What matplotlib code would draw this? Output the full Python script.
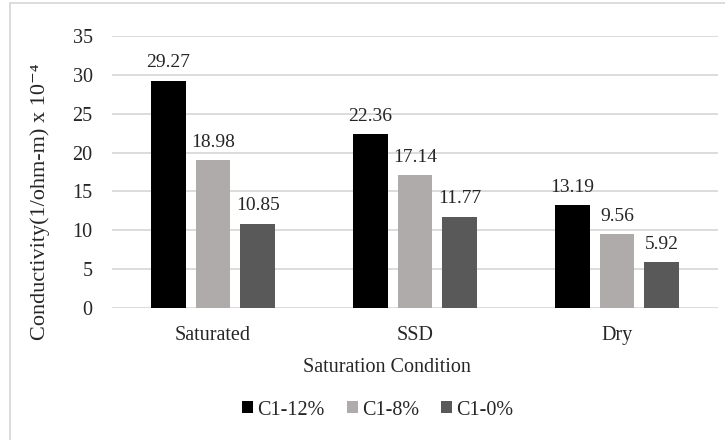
import numpy as np
import matplotlib
matplotlib.use("Agg")
import matplotlib.pyplot as plt
from matplotlib.patches import Rectangle

# data
conditions = ["Saturated", "SSD", "Dry"]
series_names = ["C1-12%", "C1-8%", "C1-0%"]
c1_12 = [29.27, 22.36, 13.19]
c1_8 = [18.98, 17.14, 9.56]
c1_0 = [10.85, 11.77, 5.92]
yticks = [0, 5, 10, 15, 20, 25, 30, 35]

colors = ["#000000", "#AEABAA", "#595959"]
txt = "#262626"
fs = 14.5

plt.rcParams["font.family"] = ["Liberation Serif", "DejaVu Serif"]

fig = plt.figure(figsize=(7.25, 4.4), dpi=100)
# chart border like the excel frame
fig.patches.append(Rectangle((10 / 725, -0.05), 1.1, 1 - 3 / 440 + 0.05,
                             transform=fig.transFigure, fill=False,
                             edgecolor="#D9D9D9", lw=1.3))

ax = fig.add_axes([112 / 725, 1 - 308 / 440, (718 - 112) / 725, (308 - 36) / 440])

x = np.arange(len(conditions))
w = 0.173
step = 0.221
for i, (vals, name) in enumerate(zip([c1_12, c1_8, c1_0], series_names)):
    pos = x + (i - 1) * step
    ax.bar(pos, vals, width=w, color=colors[i], label=name, zorder=3)
    for xx, v in zip(pos, vals):
        ax.annotate(f"{v:.2f}", (xx, v), xytext=(0, 9.5), textcoords="offset points",
                    ha="center", va="baseline", fontsize=14, color=txt)

ax.set_xlim(-0.5, 2.5)
ax.set_ylim(0, 35)
ax.set_yticks(yticks)
ax.set_xticks(x)
ax.set_xticklabels(conditions)
ax.yaxis.grid(True, color="#D9D9D9", lw=1.3, zorder=0)
ax.tick_params(axis="both", length=0, labelsize=fs, colors=txt)
ax.tick_params(axis="y", pad=14)
ax.tick_params(axis="x", pad=13)
for s in ["top", "right", "left", "bottom"]:
    ax.spines[s].set_visible(False)

fig.text(387 / 725, 1 - 368 / 440, "Saturation Condition", ha="center", va="center",
         fontsize=fs, color=txt)
fig.text(40 / 725, 1 - 202 / 440, "Conductivity(1/ohm-m) x 10⁻⁴", rotation=90,
         ha="center", va="center", fontsize=16, color=txt)

fig.legend(loc="center", bbox_to_anchor=(378 / 725, 1 - 410 / 440), ncol=3,
           frameon=False, fontsize=fs, handlelength=0.55, handleheight=0.55,
           handletextpad=0.2, columnspacing=1.1, labelcolor=txt)

fig.savefig("out.png", dpi=100)
